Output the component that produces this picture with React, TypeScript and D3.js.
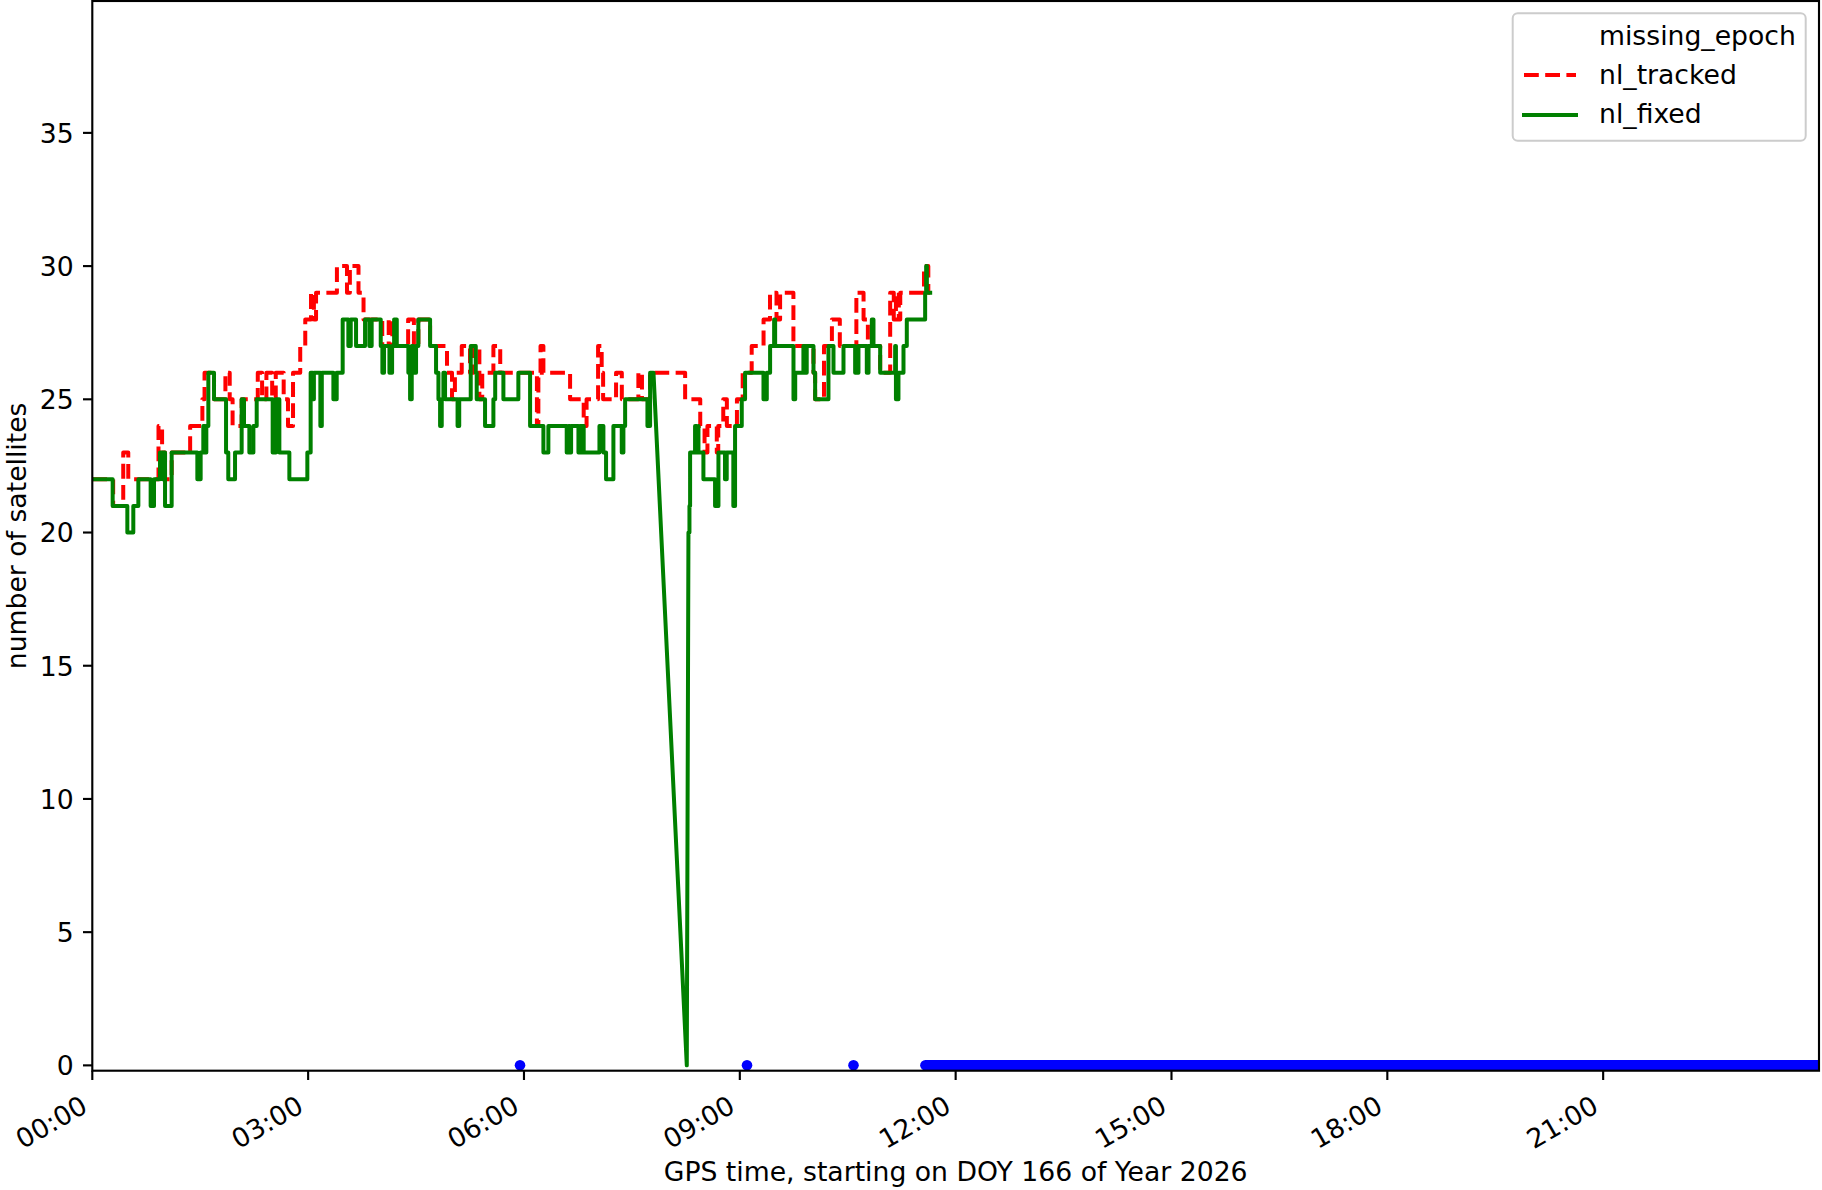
import React from "react";
import * as d3 from "d3";

const W = 1822;
const H = 1190;
const PLOT = { left: 92.3, right: 1819, top: 1, bottom: 1070.7 };

const xTickHours = [0, 3, 6, 9, 12, 15, 18, 21];
const xTickLabels = ["00:00", "03:00", "06:00", "09:00", "12:00", "15:00", "18:00", "21:00"];
const yTickValues = [0, 5, 10, 15, 20, 25, 30, 35];

const xLabel = "GPS time, starting on DOY 166 of Year 2026";
const yLabel = "number of satellites";
const legendLabels = ["missing_epoch", "nl_tracked", "nl_fixed"];

// isolated missing epochs (hours) and the continuous run of missing epochs
const missingEpochHours = [5.945, 9.1, 10.58];
const missingSpanHours = [11.58, 23.99];

// [startHour, value, optional endHour] - value held from start until next start (or endHour)
const nlTracked: number[][] = [
  [0, 22], [0.29, 21], [0.43, 23], [0.5, 22], [0.92, 24], [0.97, 23], [1.011, 22], [1.103, 23],
  [1.36, 24], [1.53, 25], [1.56, 26], [1.692, 25], [1.85, 26], [1.91, 25], [1.95, 24], [2.076, 25],
  [2.3, 26], [2.36, 25], [2.42, 26], [2.5, 25], [2.55, 26], [2.66, 25], [2.72, 24], [2.79, 26],
  [2.89, 27], [2.96, 28], [3.04, 29], [3.08, 28], [3.11, 29], [3.4, 30], [3.54, 29], [3.58, 30],
  [3.7, 29], [3.77, 28], [4.03, 27], [4.12, 28], [4.17, 27], [4.39, 28], [4.47, 27], [4.532, 28],
  [4.695, 27], [4.93, 26], [5.0, 25], [5.04, 26], [5.135, 27], [5.25, 26], [5.3, 27], [5.38, 25],
  [5.42, 26], [5.575, 27], [5.67, 26], [6.18, 24], [6.2, 26], [6.23, 27], [6.27, 26], [6.641, 25],
  [6.83, 24], [6.87, 25], [7.03, 27], [7.08, 26], [7.1, 25], [7.28, 26], [7.36, 25], [7.59, 26],
  [7.64, 25], [7.753, 26], [8.24, 25], [8.45, 24], [8.51, 23], [8.55, 24], [8.68, 23], [8.7, 24],
  [8.77, 25], [8.82, 24], [8.96, 25], [9.04, 26], [9.165, 27], [9.33, 28], [9.42, 29], [9.51, 28],
  [9.56, 29], [9.745, 27], [10.024, 26], [10.047, 25], [10.17, 27], [10.28, 28], [10.39, 27],
  [10.62, 29], [10.72, 28], [10.78, 27], [10.951, 26], [11.09, 29], [11.14, 28], [11.17, 29],
  [11.21, 28], [11.23, 29], [11.56, 30], [11.62, 29, 11.646],
];

const nlFixed: number[][] = [
  [0, 22], [0.283, 21], [0.487, 20], [0.57, 21], [0.64, 22], [0.811, 21], [0.858, 22], [0.941, 23],
  [0.975, 22], [0.99, 23], [1.011, 21], [1.103, 23], [1.46, 22], [1.506, 23], [1.543, 24], [1.57, 23],
  [1.585, 24], [1.613, 26], [1.692, 25], [1.859, 23], [1.89, 22], [1.984, 23], [2.076, 25], [2.109, 24],
  [2.183, 23], [2.239, 24], [2.285, 25], [2.507, 23], [2.553, 25], [2.6, 23], [2.739, 22], [2.989, 23],
  [3.035, 26], [3.063, 25], [3.08, 26], [3.17, 24], [3.19, 26], [3.351, 25], [3.397, 26], [3.48, 28],
  [3.559, 27], [3.592, 28], [3.666, 27], [3.791, 28], [3.851, 27], [3.883, 28], [4.009, 27], [4.032, 26],
  [4.055, 27], [4.13, 26], [4.167, 27], [4.195, 28], [4.232, 27], [4.393, 26], [4.417, 25], [4.44, 27],
  [4.463, 26], [4.5, 27], [4.532, 28], [4.695, 27], [4.778, 26], [4.811, 25], [4.834, 24], [4.857, 25],
  [4.88, 26], [4.903, 25], [5.077, 24], [5.1, 25], [5.26, 27], [5.33, 26], [5.343, 25], [5.459, 24],
  [5.575, 25], [5.6, 26], [5.714, 25], [5.922, 26], [6.085, 24], [6.27, 23], [6.339, 24], [6.594, 23],
  [6.62, 24], [6.641, 23], [6.655, 24], [6.757, 23], [6.775, 24], [6.79, 23], [6.8, 24], [6.83, 23],
  [7.049, 24], [7.104, 23], [7.141, 22], [7.243, 24], [7.359, 23], [7.382, 24], [7.406, 25], [7.716, 24],
  [7.753, 26, 7.8], [8.263, 0, 8.263], [8.286, 20], [8.3, 21], [8.309, 23], [8.378, 24], [8.4, 23],
  [8.42, 24], [8.425, 23], [8.494, 22], [8.656, 21], [8.703, 23], [8.794, 22], [8.818, 23], [8.91, 21],
  [8.934, 24], [9.027, 25], [9.073, 26], [9.329, 25], [9.375, 26], [9.421, 27], [9.477, 28], [9.491, 27],
  [9.746, 25], [9.77, 26], [9.884, 27], [9.91, 26], [9.93, 27], [10.024, 26], [10.047, 25], [10.232, 27],
  [10.302, 26], [10.441, 27], [10.603, 26], [10.649, 27], [10.765, 26], [10.789, 27], [10.835, 28],
  [10.858, 27], [10.951, 26], [11.159, 27], [11.17, 25], [11.205, 26], [11.275, 27], [11.321, 28],
  [11.576, 29], [11.59, 30], [11.6, 29, 11.646],
];

const FONT = "DejaVu Sans";
const FS = 26.67;
const LW = 4;
const TICK = 9.33;
const SPINE = 2.13;
const DASH = "14.8 6.4";

function runsToPoints(runs: number[][]): [number, number][] {
  const pts: [number, number][] = [];
  runs.forEach((r, i) => {
    const end = r[2] !== undefined ? r[2] : i + 1 < runs.length ? runs[i + 1][0] : r[0];
    pts.push([r[0], r[1]]);
    pts.push([end, r[1]]);
  });
  return pts;
}

export default function App() {
  const x = d3.scaleLinear().domain([0, 24]).range([PLOT.left, PLOT.right]);
  const y = d3.scaleLinear().domain([-0.2, 39.95]).range([PLOT.bottom, PLOT.top]);
  const line = d3
    .line<[number, number]>()
    .x((d) => x(d[0]))
    .y((d) => y(d[1]));

  const trackedPath = line(runsToPoints(nlTracked)) || "";
  const fixedPath = line(runsToPoints(nlFixed)) || "";

  const legX = 1512.7;
  const legY = 13.3;
  const legW = 293;
  const legH = 127.4;
  const rowBase = [44.6, 83.9, 122.9];
  const handleX0 = 1524;
  const handleX1 = 1576;

  return (
    <svg
      width={W}
      height={H}
      viewBox={`0 0 ${W} ${H}`}
      style={{ position: "absolute", left: 0, top: 0, background: "#fff" }}
      fontFamily={FONT}
    >
      <rect x={0} y={0} width={W} height={H} fill="#fff" />
      <defs>
        <clipPath id="plotClip">
          <rect x={PLOT.left} y={PLOT.top} width={PLOT.right - PLOT.left} height={PLOT.bottom - PLOT.top} />
        </clipPath>
      </defs>

      <g clipPath="url(#plotClip)">
        {missingEpochHours.map((h, i) => (
          <circle key={i} cx={x(h)} cy={y(0)} r={5.3} fill="#0000ff" />
        ))}
        <line
          x1={x(missingSpanHours[0])}
          x2={x(missingSpanHours[1])}
          y1={y(0)}
          y2={y(0)}
          stroke="#0000ff"
          strokeWidth={10.6}
          strokeLinecap="round"
        />
        <path
          d={trackedPath}
          fill="none"
          stroke="#ff0000"
          strokeWidth={LW}
          strokeDasharray={DASH}
          strokeLinejoin="round"
          strokeLinecap="butt"
        />
        <path
          d={fixedPath}
          fill="none"
          stroke="#008000"
          strokeWidth={LW}
          strokeLinejoin="round"
          strokeLinecap="square"
        />
      </g>

      <rect
        x={PLOT.left}
        y={PLOT.top}
        width={PLOT.right - PLOT.left}
        height={PLOT.bottom - PLOT.top}
        fill="none"
        stroke="#000"
        strokeWidth={SPINE}
      />

      {yTickValues.map((v) => (
        <g key={v}>
          <line x1={PLOT.left - TICK} x2={PLOT.left} y1={y(v)} y2={y(v)} stroke="#000" strokeWidth={SPINE} />
          <text x={PLOT.left - 2 * TICK} y={y(v) + 9.8} textAnchor="end" fontSize={FS} fill="#000">
            {v}
          </text>
        </g>
      ))}

      {xTickHours.map((h, i) => (
        <g key={h}>
          <line x1={x(h)} x2={x(h)} y1={PLOT.bottom} y2={PLOT.bottom + TICK} stroke="#000" strokeWidth={SPINE} />
          <text
            transform={`translate(${x(h) - 3},${1111}) rotate(-30)`}
            textAnchor="end"
            fontSize={FS}
            fill="#000"
          >
            {xTickLabels[i]}
          </text>
        </g>
      ))}

      <text x={(PLOT.left + PLOT.right) / 2} y={1180.5} textAnchor="middle" fontSize={FS} fill="#000">
        {xLabel}
      </text>
      <text
        transform={`translate(25.5,${(PLOT.top + PLOT.bottom) / 2}) rotate(-90)`}
        textAnchor="middle"
        fontSize={FS}
        fill="#000"
      >
        {yLabel}
      </text>

      <rect
        x={legX}
        y={legY}
        width={legW}
        height={legH}
        rx={5}
        ry={5}
        fill="#fff"
        fillOpacity={0.8}
        stroke="#cccccc"
        strokeWidth={2}
      />
      <line
        x1={handleX0}
        x2={handleX1}
        y1={75}
        y2={75}
        stroke="#ff0000"
        strokeWidth={LW}
        strokeDasharray={DASH}
      />
      <line
        x1={handleX0}
        x2={handleX1}
        y1={115}
        y2={115}
        stroke="#008000"
        strokeWidth={LW}
        strokeLinecap="square"
      />
      {legendLabels.map((t, i) => (
        <text key={t} x={1599} y={rowBase[i]} fontSize={FS} fill="#000">
          {t}
        </text>
      ))}
    </svg>
  );
}
